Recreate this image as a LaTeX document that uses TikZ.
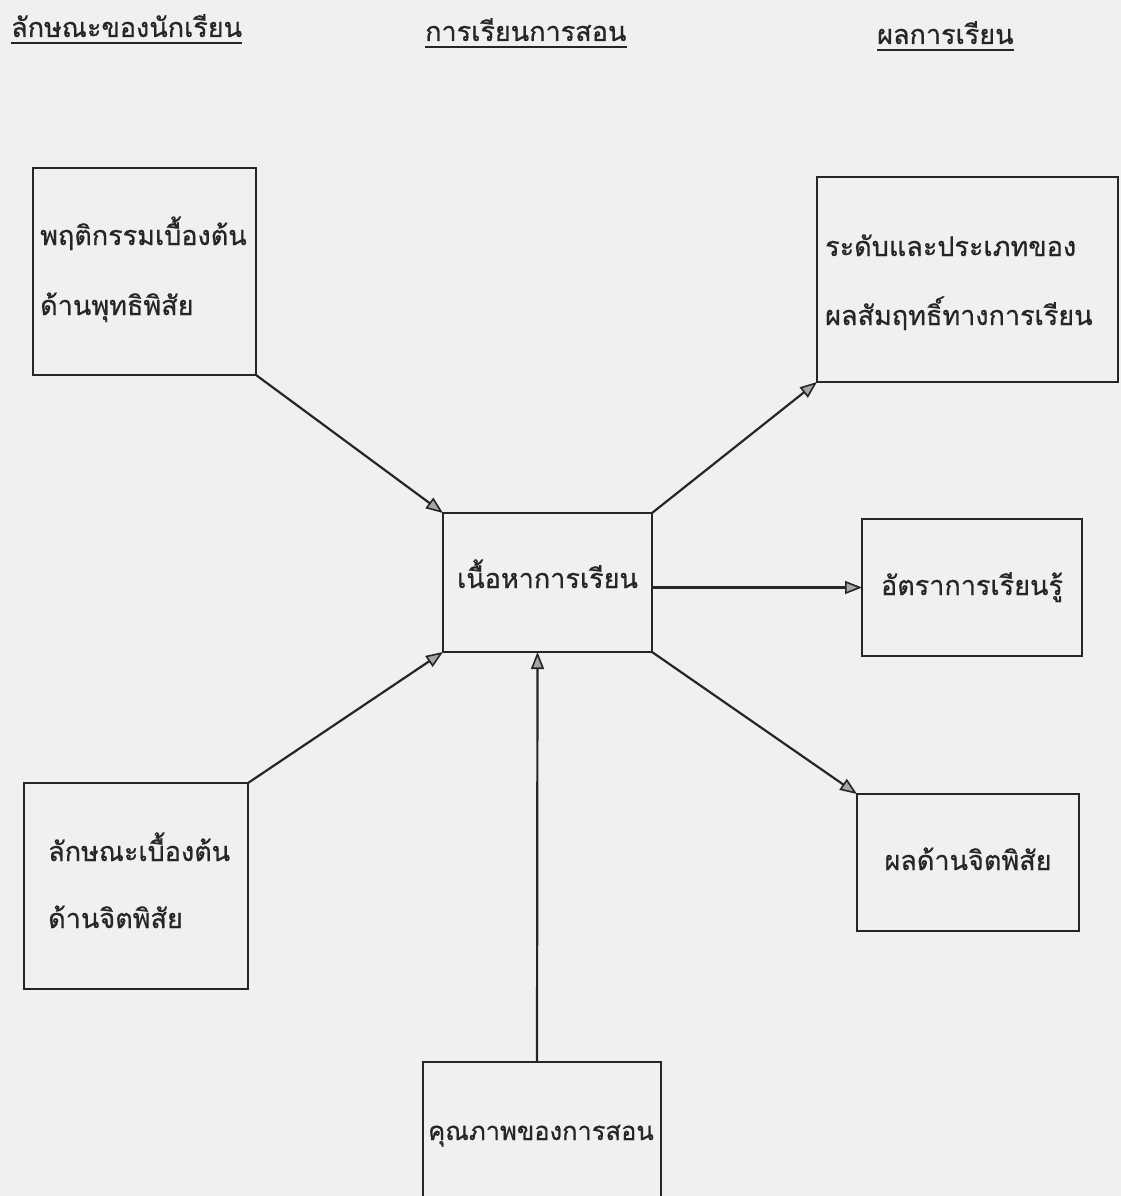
\documentclass[tikz,border=0pt]{standalone}
\usepackage{fontspec}
\newfontfamily\thaifont[Script=Thai,FakeBold=0.7]{Loma}
\usetikzlibrary{arrows.meta}
\begin{document}
\begin{tikzpicture}[x=1pt,y=-1pt,
  box/.style={draw=black!85, line width=2.2pt, inner sep=0pt, outer sep=0pt, anchor=north west},
  txt/.style={font=\thaifont\fontsize{27}{27}\selectfont, text=black!85, inner sep=0pt, anchor=base west},
  ctxt/.style={txt, anchor=base},
  uline/.style={draw=black!85, line width=2pt},
  conn/.style={draw=black!85, line width=2.2pt, -{Triangle[open,length=17pt,width=13pt,line width=1.6pt,fill=black!35]}}]
\fill[black!6] (0,0) rectangle (1121,1196);
\useasboundingbox (0,0) rectangle (1121,1196);
\clip (0,0) rectangle (1121,1196);
% headers
\node[txt] (h1) at (11,37) {ลักษณะของนักเรียน};
\node[txt] (h2) at (425,41) {การเรียนการสอน};
\node[txt] (h3) at (877,44) {ผลการเรียน};
\foreach \h in {h1,h2,h3}
  \draw[uline] ([yshift=-6pt]\h.base west) -- ([yshift=-6pt]\h.base east);
% boxes
\node[box, minimum width=223pt, minimum height=207pt] (b1) at (33,168) {};
\node[box, minimum width=301pt, minimum height=205pt] (b2) at (817,177) {};
\node[box, minimum width=209pt, minimum height=139pt] (c) at (443,513) {};
\node[box, minimum width=220pt, minimum height=137pt] (b3) at (862,519) {};
\node[box, minimum width=222pt, minimum height=137pt] (b4) at (857,794) {};
\node[box, minimum width=224pt, minimum height=206pt] (b5) at (24,783) {};
\node[box, minimum width=238pt, minimum height=160pt] (b6) at (423,1062) {};
% texts
\node[txt] (t1a) at (40,245) {พฤติกรรมเบื้องต้น};
\node[txt] (t1b) at (40,315) {ด้านพุทธิพิสัย};
\node[txt] (t2a) at (825,256) {ระดับและประเภทของ};
\node[txt] (t2b) at (825,325) {ผลสัมฤทธิ์ทางการเรียน};
\node[ctxt] (tc) at (547.5,588) {เนื้อหาการเรียน};
\node[ctxt] (t3) at (972,595) {อัตราการเรียนรู้};
\node[ctxt] (t4) at (968,870) {ผลด้านจิตพิสัย};
\node[txt] (t5a) at (48,861) {ลักษณะเบื้องต้น};
\node[txt] (t5b) at (48,928) {ด้านจิตพิสัย};
\node[ctxt, font=\thaifont\fontsize{25.5}{25.5}\selectfont] (t6) at (541,1140) {คุณภาพของการสอน};
% connectors
\draw[conn] (b1.south east) -- (c.north west);
\draw[conn] (b5.north east) -- (c.south west);
\draw[conn] ([xshift=-5pt]b6.north) -- ([xshift=-10pt]c.south);
\draw[conn] (c.north east) -- (b2.south west);
\draw[conn] (c.east |- b3.west) -- (b3.west);
\draw[conn] (c.south east) -- (b4.north west);
\end{tikzpicture}
\end{document}
